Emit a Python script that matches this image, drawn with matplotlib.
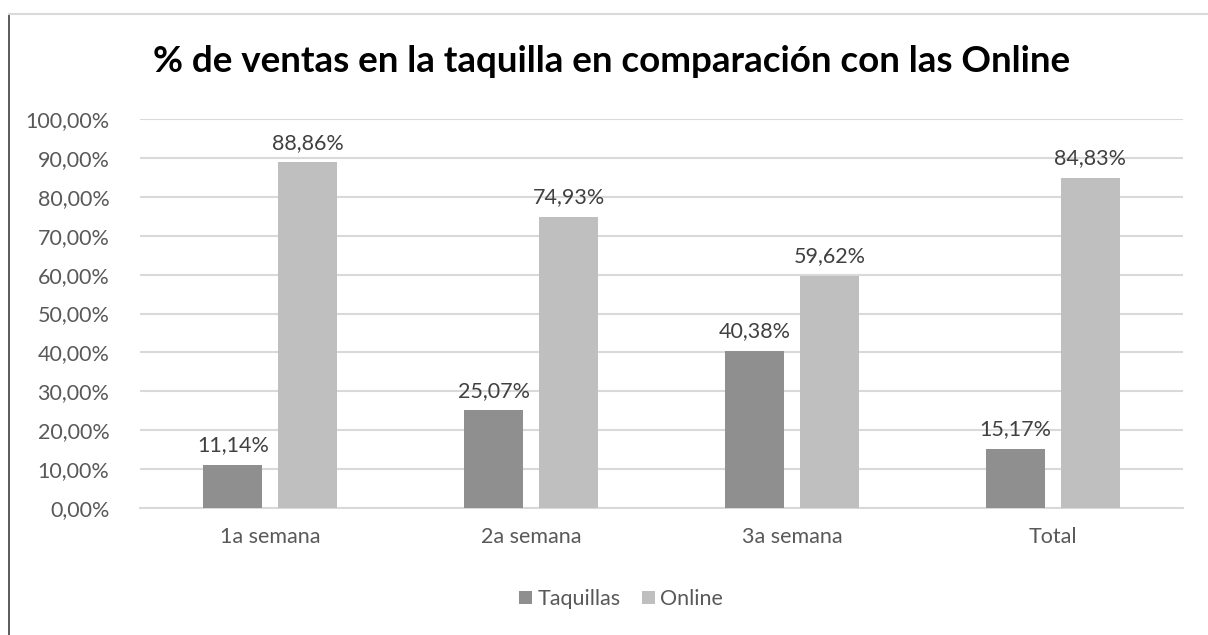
import matplotlib
matplotlib.use("Agg")
import matplotlib.pyplot as plt
import numpy as np

categories = ["1a semana", "2a semana", "3a semana", "Total"]
taquillas = [11.14, 25.07, 40.38, 15.17]
online = [88.86, 74.93, 59.62, 84.83]
series_names = ["Taquillas", "Online"]
title = "% de ventas en la taquilla en comparación con las Online"

plt.rcParams['font.family'] = ['Lato', 'DejaVu Sans']

fig = plt.figure(figsize=(12.08, 6.35), dpi=100)
ax = fig.add_axes([140/1208, 1-508/635, (1183-140)/1208, (508-119)/635])

x = np.arange(len(categories))
w = 0.226
gap = 0.061
c_dark = "#8f8f8f"
c_light = "#bfbfbf"
b1 = ax.bar(x - (w + gap)/2, taquillas, w, color=c_dark, label=series_names[0], zorder=3)
b2 = ax.bar(x + (w + gap)/2, online, w, color=c_light, label=series_names[1], zorder=3)

def fmt(v):
    return f"{v:.2f}".replace(".", ",") + "%"

for bars, vals in ((b1, taquillas), (b2, online)):
    for b, v in zip(bars, vals):
        ax.annotate(fmt(v), (b.get_x() + b.get_width()/2, v), xytext=(0, 7),
                    textcoords="offset points", ha="center", va="bottom",
                    fontsize=15.5, color="#404040")

ax.set_xlim(-0.5, len(categories) - 0.5)
ax.set_ylim(0, 100)
ax.set_yticks(np.arange(0, 101, 10))
ax.set_yticklabels([f"{t:.2f}".replace(".", ",") + "%" for t in np.arange(0, 101, 10)])
ax.set_xticks(x)
ax.set_xticklabels(categories)
ax.tick_params(axis="both", length=0, labelsize=15.5, labelcolor="#595959")
ax.tick_params(axis="y", pad=22)
ax.tick_params(axis="x", pad=14)
ax.grid(axis="y", color="#d9d9d9", linewidth=1.5, zorder=0)
for s in ["top", "right", "left"]:
    ax.spines[s].set_visible(False)
ax.spines["bottom"].set_color("#d9d9d9")
ax.spines["bottom"].set_linewidth(1.5)

fig.text(612/1208, 1-62/635, title, ha="center", va="center", fontsize=26.5,
         fontweight="bold", color="black")

leg = fig.legend(handles=[b1, b2], labels=series_names, loc="center",
                 bbox_to_anchor=(621/1208, 1-599/635), ncol=2, frameon=False,
                 fontsize=15.5, handlelength=0.6, handleheight=0.6,
                 handletextpad=0.25, columnspacing=1.0)
for t in leg.get_texts():
    t.set_color("#595959")

# frame lines
fig.add_artist(plt.Line2D([9/1208, 9/1208], [0, 1-14/635], transform=fig.transFigure,
                          color="#404040", linewidth=1.2))
fig.add_artist(plt.Line2D([9/1208, 1], [1-14/635, 1-14/635], transform=fig.transFigure,
                          color="#d9d9d9", linewidth=1.5))

fig.savefig("out.png", dpi=100)
